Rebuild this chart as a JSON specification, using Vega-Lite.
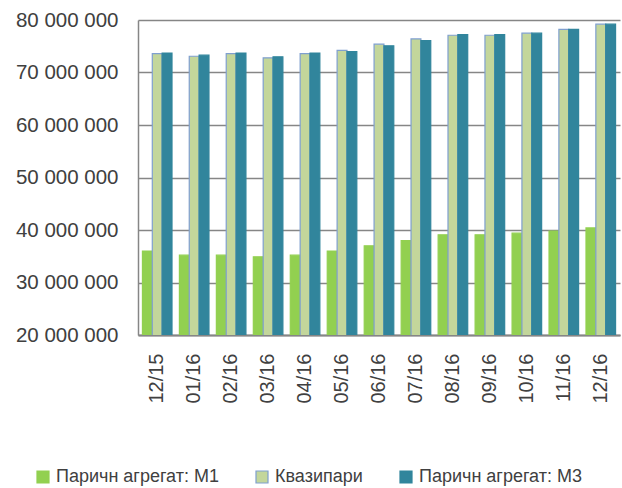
{
  "$schema": "https://vega.github.io/schema/vega-lite/v6.json",
  "autosize": "none",
  "width": 482,
  "height": 315,
  "padding": {"left": 138, "top": 20, "right": 2, "bottom": 153},
  "background": "white",
  "config": {
    "locale": {"number": {"decimal": ",", "thousands": " ", "grouping": [3], "currency": ["", ""]}},
    "view": {"stroke": null},
    "font": "Liberation Sans"
  },
  "data": {
    "values": [
      {"month": "12/15", "series": "Паричн агрегат: М1", "value": 36000000},
      {"month": "12/15", "series": "Квазипари", "value": 73600000},
      {"month": "12/15", "series": "Паричн агрегат: М3", "value": 73700000},
      {"month": "01/16", "series": "Паричн агрегат: М1", "value": 35200000},
      {"month": "01/16", "series": "Квазипари", "value": 73100000},
      {"month": "01/16", "series": "Паричн агрегат: М3", "value": 73300000},
      {"month": "02/16", "series": "Паричн агрегат: М1", "value": 35200000},
      {"month": "02/16", "series": "Квазипари", "value": 73600000},
      {"month": "02/16", "series": "Паричн агрегат: М3", "value": 73700000},
      {"month": "03/16", "series": "Паричн агрегат: М1", "value": 34900000},
      {"month": "03/16", "series": "Квазипари", "value": 72800000},
      {"month": "03/16", "series": "Паричн агрегат: М3", "value": 73000000},
      {"month": "04/16", "series": "Паричн агрегат: М1", "value": 35200000},
      {"month": "04/16", "series": "Квазипари", "value": 73600000},
      {"month": "04/16", "series": "Паричн агрегат: М3", "value": 73700000},
      {"month": "05/16", "series": "Паричн агрегат: М1", "value": 36000000},
      {"month": "05/16", "series": "Квазипари", "value": 74200000},
      {"month": "05/16", "series": "Паричн агрегат: М3", "value": 74000000},
      {"month": "06/16", "series": "Паричн агрегат: М1", "value": 37000000},
      {"month": "06/16", "series": "Квазипари", "value": 75400000},
      {"month": "06/16", "series": "Паричн агрегат: М3", "value": 75100000},
      {"month": "07/16", "series": "Паричн агрегат: М1", "value": 38000000},
      {"month": "07/16", "series": "Квазипари", "value": 76400000},
      {"month": "07/16", "series": "Паричн агрегат: М3", "value": 76100000},
      {"month": "08/16", "series": "Паричн агрегат: М1", "value": 39100000},
      {"month": "08/16", "series": "Квазипари", "value": 77100000},
      {"month": "08/16", "series": "Паричн агрегат: М3", "value": 77200000},
      {"month": "09/16", "series": "Паричн агрегат: М1", "value": 39100000},
      {"month": "09/16", "series": "Квазипари", "value": 77100000},
      {"month": "09/16", "series": "Паричн агрегат: М3", "value": 77200000},
      {"month": "10/16", "series": "Паричн агрегат: М1", "value": 39400000},
      {"month": "10/16", "series": "Квазипари", "value": 77500000},
      {"month": "10/16", "series": "Паричн агрегат: М3", "value": 77500000},
      {"month": "11/16", "series": "Паричн агрегат: М1", "value": 39800000},
      {"month": "11/16", "series": "Квазипари", "value": 78200000},
      {"month": "11/16", "series": "Паричн агрегат: М3", "value": 78200000},
      {"month": "12/16", "series": "Паричн агрегат: М1", "value": 40400000},
      {"month": "12/16", "series": "Квазипари", "value": 79200000},
      {"month": "12/16", "series": "Паричн агрегат: М3", "value": 79200000}
    ]
  },
  "mark": {"type": "bar", "clip": true, "strokeWidth": 1.2},
  "encoding": {
    "x": {
      "field": "month", "type": "nominal", "sort": null,
      "scale": {"paddingInner": 0.2, "paddingOuter": 0.12},
      "axis": {
        "title": null, "labelAngle": -90, "labelFontSize": 20, "labelColor": "#404040",
        "labelPadding": 18, "ticks": false, "domainColor": "#868686", "domainWidth": 2
      }
    },
    "xOffset": {"field": "series", "type": "nominal", "sort": ["Паричн агрегат: М1", "Квазипари", "Паричн агрегат: М3"], "scale": {"paddingInner": 0, "paddingOuter": 0}},
    "y": {
      "field": "value", "type": "quantitative",
      "scale": {"domain": [20000000, 80000000], "zero": false, "nice": false},
      "axis": {
        "title": null, "values": [20000000, 30000000, 40000000, 50000000, 60000000, 70000000, 80000000],
        "format": ",d", "labelFontSize": 20.5, "labelColor": "#404040", "labelPadding": 20,
        "ticks": false, "domainColor": "#868686", "domainWidth": 1.5,
        "gridColor": "#868686", "gridWidth": 1.5
      }
    },
    "fill": {
      "field": "series", "type": "nominal",
      "sort": ["Паричн агрегат: М1", "Квазипари", "Паричн агрегат: М3"],
      "scale": {"domain": ["Паричн агрегат: М1", "Квазипари", "Паричн агрегат: М3"], "range": ["#92D050", "#C3D69B", "#31859C"]},
      "legend": {
        "title": null, "orient": "none", "direction": "horizontal", "legendX": -104, "legendY": 448,
        "symbolType": "square", "symbolSize": 144, "labelFontSize": 18, "labelColor": "#404040",
        "labelOffset": 4, "columnPadding": 34, "padding": 0, "symbolStrokeWidth": 1.2, "labelLimit": 400
      }
    },
    "stroke": {
      "field": "series", "type": "nominal",
      "sort": ["Паричн агрегат: М1", "Квазипари", "Паричн агрегат: М3"],
      "scale": {"domain": ["Паричн агрегат: М1", "Квазипари", "Паричн агрегат: М3"], "range": ["#92D050", "#7F9FCF", "#31859C"]},
      "legend": {
        "title": null, "orient": "none", "direction": "horizontal", "legendX": -104, "legendY": 448,
        "symbolType": "square", "symbolSize": 144, "labelFontSize": 18, "labelColor": "#404040",
        "labelOffset": 4, "columnPadding": 34, "padding": 0, "symbolStrokeWidth": 1.2, "labelLimit": 400
      }
    }
  }
}
